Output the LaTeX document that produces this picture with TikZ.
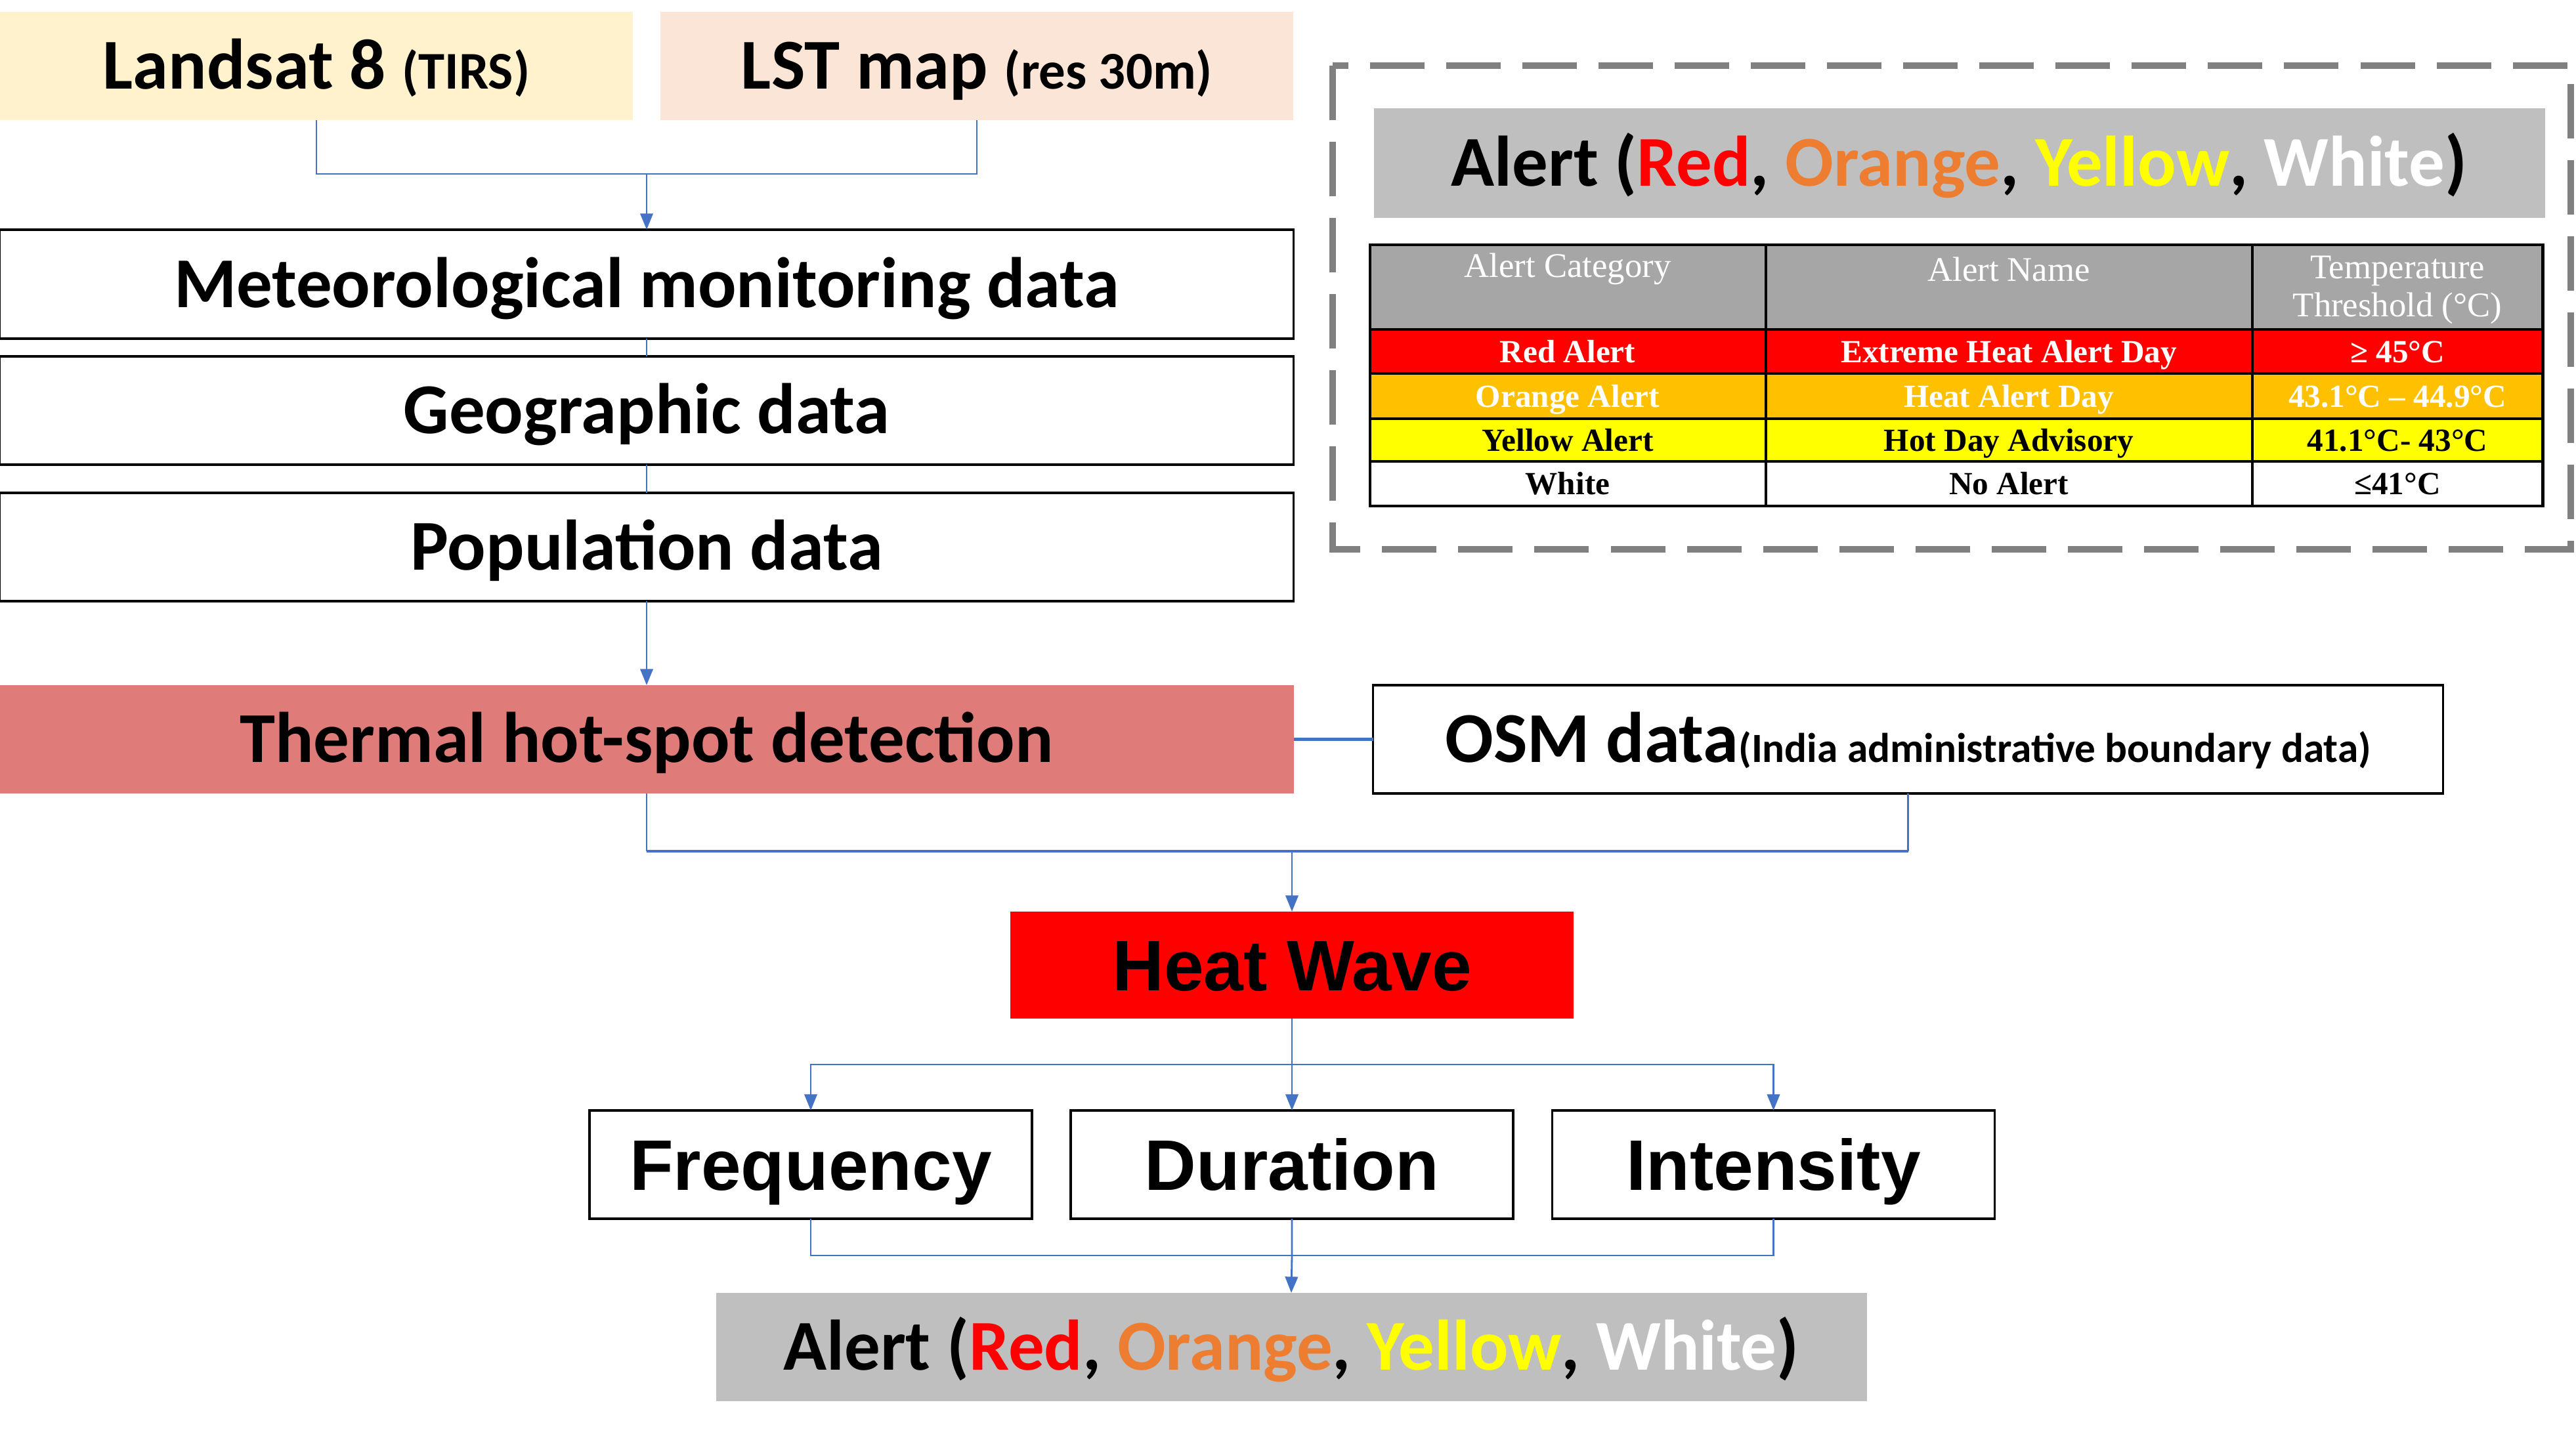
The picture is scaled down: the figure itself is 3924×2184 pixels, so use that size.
\documentclass[tikz,border=0pt]{standalone}
\usepackage{fontspec}
\setmainfont{Carlito}
\newfontfamily\arialf{Liberation Sans}
\newfontfamily\tnrf{Liberation Serif}
\usetikzlibrary{arrows.meta}
\definecolor{landsatc}{HTML}{FFF2CC}
\definecolor{lstc}{HTML}{FBE5D6}
\definecolor{thermalc}{HTML}{DF7B79}
\definecolor{alertgray}{HTML}{BFBFBF}
\definecolor{hdrgray}{HTML}{A6A6A6}
\definecolor{orangetxt}{HTML}{ED7D31}
\definecolor{orangerow}{HTML}{FFC000}
\definecolor{yellowc}{HTML}{FFFF00}
\definecolor{connblue}{HTML}{4472C4}
\definecolor{dashgray}{HTML}{808080}
\newcommand{\bigf}{\fontsize{31}{37}\selectfont}
\newcommand{\alerttext}{Alert (\textcolor{red}{Red}, \textcolor{orangetxt}{Orange}, \textcolor{yellowc}{Yellow}, \textcolor{white}{White})}
\begin{document}
\begin{tikzpicture}[x=0.01cm,y=-0.01cm,
  base/.style={inner sep=0pt, outer sep=0pt, font=\bfseries\bigf, align=center, text height=20pt, text depth=0pt},
  box/.style={base, draw=black, line width=1pt, fill=white},
  abox/.style={box, font=\arialf\bfseries\bigf, text height=22pt},
  conn/.style={draw=connblue, line width=0.8pt},
  thick conn/.style={draw=connblue, line width=1.4pt},
  arr/.style={conn, -{Triangle[length=7pt,width=5.5pt]}},
  cellhdr/.style={inner sep=0pt, text=white, font=\tnrf\fontsize{15}{16.5}\selectfont, align=center},
  cell/.style={inner sep=0pt, font=\tnrf\bfseries\fontsize{14}{16}\selectfont, text height=9.5pt, text depth=0pt}
]
\useasboundingbox (0,0) rectangle (3924,2184);

% top sources
\node[base, fill=landsatc, minimum width=9.64cm, minimum height=1.65cm] (landsat) at (482,100.5) {Landsat 8 {\fontsize{23}{28}\selectfont (TIRS)}};
\node[base, fill=lstc, minimum width=9.64cm, minimum height=1.65cm] (lst) at (1488,100.5) {LST map {\fontsize{23}{28}\selectfont (res 30m)}};

% data boxes
\node[box, minimum width=19.7cm, minimum height=1.66cm] (met) at (985,433) {Meteorological monitoring data};
\node[box, minimum width=19.7cm, minimum height=1.65cm] (geo) at (985,625.5) {Geographic data};
\node[box, minimum width=19.7cm, minimum height=1.65cm] (pop) at (985,833.5) {Population data};

\node[base, fill=thermalc, minimum width=19.7cm, minimum height=1.65cm] (thermal) at (985,1126.5) {Thermal hot-spot detection};
\node[box, minimum width=16.29cm, minimum height=1.65cm] (osm) at (2906.5,1126.5) {OSM data{\fontsize{18}{22}\selectfont(India administrative boundary data)}};

\node[abox, draw=none, fill=red, minimum width=8.58cm, minimum height=1.63cm] (heat) at (1968,1470.5) {Heat Wave};

\node[abox, minimum width=6.74cm, minimum height=1.65cm] (freq) at (1235,1774.5) {Frequency};
\node[abox, minimum width=6.74cm, minimum height=1.65cm] (dur) at (1968,1774.5) {Duration};
\node[abox, minimum width=6.74cm, minimum height=1.65cm] (inten) at (2701.5,1774.5) {Intensity};

\node[base, fill=alertgray, minimum width=17.52cm, minimum height=1.65cm] (alert) at (1967,2052.5) {\alerttext};

% connectors
\coordinate (j1) at (985,265);
\draw[conn] (landsat.south) |- (j1) -| (lst.south);
\draw[arr] (j1) -- (met.north);
\draw[conn] (met.south) -- (geo.north);
\draw[conn] (geo.south) -- (pop.north);
\draw[arr] (pop.south) -- (thermal.north);
\draw[thick conn] (thermal.east) -- (osm.west);
\coordinate (j2) at (1968,1297);
\coordinate (j2l) at (985,1297);
\coordinate (j2r) at (2906.5,1297);
\draw[conn] (thermal.south) -- (j2l);
\draw[conn] (osm.south) -- (j2r);
\draw[thick conn] (j2l) -- (j2r);
\draw[arr] (j2) -- (heat.north);
\coordinate (j3) at (1968,1622);
\draw[conn] (heat.south) -- (j3);
\draw[arr] (j3) -| (freq.north);
\draw[arr] (j3) -- (dur.north);
\draw[arr] (j3) -| (inten.north);
\coordinate (j4) at (1968,1913);
\draw[conn] (freq.south) |- (j4) -| (inten.south);
\draw[arr] (dur.south) -- (j4) -- (alert.north);

% dashed legend frame
\draw[dashgray, line width=2.8pt, dash pattern=on 23.6pt off 9.4pt] (2030,100) rectangle (3916,837);
\node[base, fill=alertgray, minimum width=17.83cm, minimum height=1.67cm] (alerthdr) at (2984.5,248.5) {\alerttext};

% table
\fill[hdrgray] (2087,373) rectangle (3873,502);
\fill[red] (2087,502) rectangle (3873,569);
\fill[orangerow] (2087,569) rectangle (3873,638);
\fill[yellowc] (2087,638) rectangle (3873,703);
\fill[white] (2087,703) rectangle (3873,771);
\draw[black, line width=1pt] (2087,502) -- (3873,502) (2087,569) -- (3873,569) (2087,638) -- (3873,638) (2087,703) -- (3873,703)
  (2690,373) -- (2690,771) (3431,373) -- (3431,771);
\draw[black, line width=1.4pt] (2087,373) rectangle (3873,771);

\node[cellhdr] (h1) at (2388,410) {Alert Category};
\node[cellhdr] (h2) at (3060,410) {Alert Name};
\node[cellhdr] (h3) at (3652,442) {Temperature\\Threshold (°C)};

\node[cell, text=white] (r1a) at (2388,535.5) {Red Alert};
\node[cell, text=white] (r1b) at (3060,535.5) {Extreme Heat Alert Day};
\node[cell, text=white] (r1c) at (3652,535.5) {≥ 45°C};
\node[cell, text=white] (r2a) at (2388,603.5) {Orange Alert};
\node[cell, text=white] (r2b) at (3060,603.5) {Heat Alert Day};
\node[cell, text=white] (r2c) at (3652,603.5) {43.1°C – 44.9°C};
\node[cell, text=black] (r3a) at (2388,670.5) {Yellow Alert};
\node[cell, text=black] (r3b) at (3060,670.5) {Hot Day Advisory};
\node[cell, text=black] (r3c) at (3652,670.5) {41.1°C- 43°C};
\node[cell, text=black] (r4a) at (2388,737) {White};
\node[cell, text=black] (r4b) at (3060,737) {No Alert};
\node[cell, text=black] (r4c) at (3652,737) {≤41°C};
\end{tikzpicture}
\end{document}
